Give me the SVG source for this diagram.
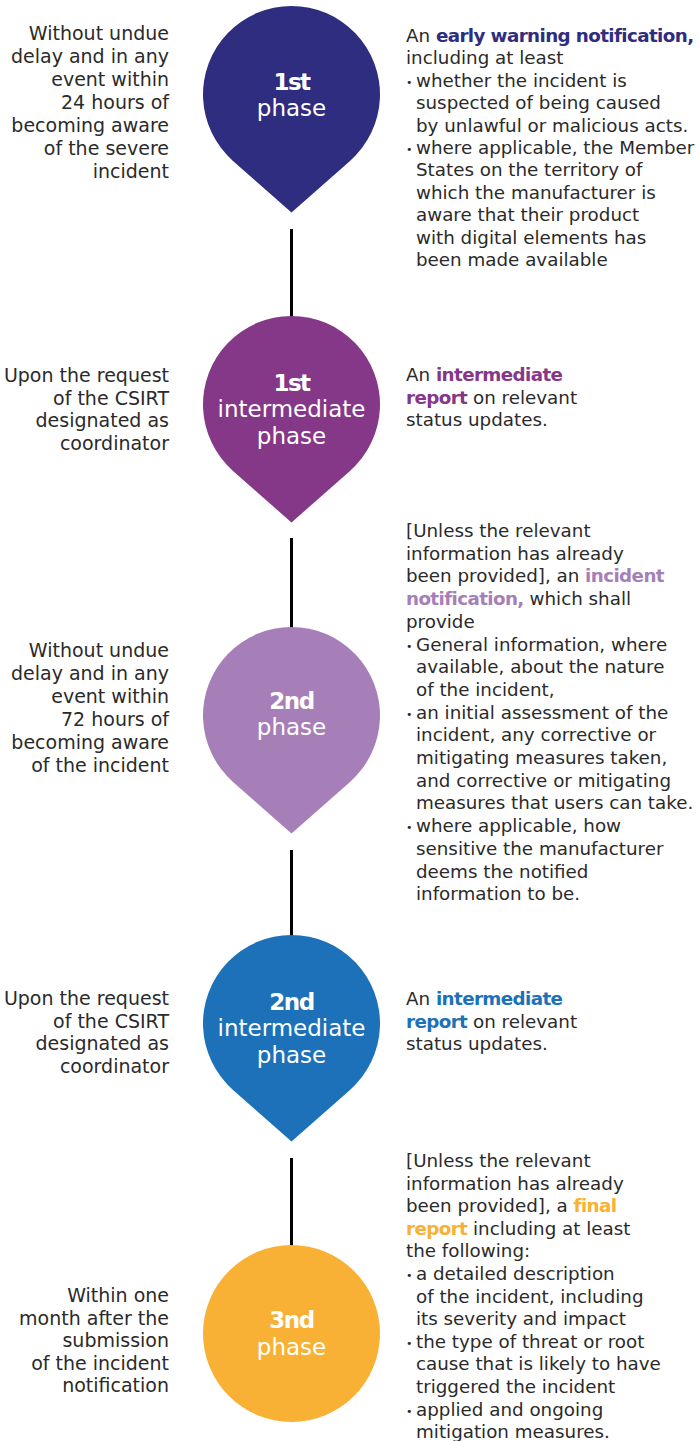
<svg xmlns="http://www.w3.org/2000/svg" width="699" height="1441" viewBox="0 0 699 1441">
<style>
.l{font-family:"DejaVu Sans",sans-serif;font-size:19px;fill:#2b2a2a;text-anchor:end}
.r{font-family:"DejaVu Sans",sans-serif;font-size:18.3px;fill:#2b2a2a}
.b{font-weight:bold;letter-spacing:-0.6px}
.bu{font-size:11px}
.c{font-family:"DejaVu Sans",sans-serif;font-size:23px;fill:#ffffff;text-anchor:middle}
.cb{font-weight:bold;letter-spacing:-1.5px}
.conn{stroke:#000;stroke-width:3;fill:none}
</style>
<defs>
<path id="pin" d="M0,118 L-58.5,66.4 A88.5,88.5 0 1 1 58.5,66.4 Z"/>
</defs>
<g id="connectors">
<line class="conn" x1="291.5" y1="229" x2="291.5" y2="320"/>
<line class="conn" x1="291.5" y1="538" x2="291.5" y2="630"/>
<line class="conn" x1="291.5" y1="850" x2="291.5" y2="940"/>
<line class="conn" x1="291.5" y1="1158" x2="291.5" y2="1250"/>
</g>
<g id="phase1">
<use href="#pin" x="291.5" y="94.5" fill="#2f2d80"/>
<text class="c" x="291.5" y="90"><tspan class="cb">1st</tspan></text>
<text class="c" x="291.5" y="116">phase</text>
</g>
<g id="phase1i">
<use href="#pin" x="291.5" y="404.5" fill="#853888"/>
<text class="c" x="291.5" y="391"><tspan class="cb">1st</tspan></text>
<text class="c" x="291.5" y="417">intermediate</text>
<text class="c" x="291.5" y="444">phase</text>
</g>
<g id="phase2">
<use href="#pin" x="291.5" y="715.5" fill="#a67fb9"/>
<text class="c" x="291.5" y="709"><tspan class="cb">2nd</tspan></text>
<text class="c" x="291.5" y="735">phase</text>
</g>
<g id="phase2i">
<use href="#pin" x="291.5" y="1023.5" fill="#1d71b8"/>
<text class="c" x="291.5" y="1010"><tspan class="cb">2nd</tspan></text>
<text class="c" x="291.5" y="1036">intermediate</text>
<text class="c" x="291.5" y="1063">phase</text>
</g>
<g id="phase3">
<circle cx="291.5" cy="1333.5" r="88.5" fill="#f8b134"/>
<text class="c" x="291.5" y="1328"><tspan class="cb">3nd</tspan></text>
<text class="c" x="291.5" y="1355">phase</text>
</g>
<g id="when1">
<text class="l" x="169" y="40">Without undue</text>
<text class="l" x="169" y="63">delay and in any</text>
<text class="l" x="169" y="86">event within</text>
<text class="l" x="169" y="109">24 hours of</text>
<text class="l" x="169" y="132">becoming aware</text>
<text class="l" x="169" y="155">of the severe</text>
<text class="l" x="169" y="178">incident</text>
</g>
<g id="when2">
<text class="l" x="169" y="382">Upon the request</text>
<text class="l" x="169" y="405">of the CSIRT</text>
<text class="l" x="169" y="427">designated as</text>
<text class="l" x="169" y="450">coordinator</text>
</g>
<g id="when3">
<text class="l" x="169" y="657">Without undue</text>
<text class="l" x="169" y="680">delay and in any</text>
<text class="l" x="169" y="703">event within</text>
<text class="l" x="169" y="726">72 hours of</text>
<text class="l" x="169" y="749">becoming aware</text>
<text class="l" x="169" y="772">of the incident</text>
</g>
<g id="when4">
<text class="l" x="169" y="1005">Upon the request</text>
<text class="l" x="169" y="1028">of the CSIRT</text>
<text class="l" x="169" y="1050">designated as</text>
<text class="l" x="169" y="1073">coordinator</text>
</g>
<g id="when5">
<text class="l" x="169" y="1302">Within one</text>
<text class="l" x="169" y="1324.5">month after the</text>
<text class="l" x="169" y="1347">submission</text>
<text class="l" x="169" y="1369.5">of the incident</text>
<text class="l" x="169" y="1392">notification</text>
</g>
<g id="what1">
<text class="r" x="406" y="42">An <tspan class="b" fill="#2f2d80">early warning notification,</tspan></text>
<text class="r" x="406" y="64.4">including at least</text>
<text class="r" y="86.8"><tspan class="bu" x="406" dy="-1">•</tspan><tspan x="416" dy="1">whether the incident is</tspan></text>
<text class="r" x="416" y="109.2">suspected of being caused</text>
<text class="r" x="416" y="131.6">by unlawful or malicious acts.</text>
<text class="r" y="154"><tspan class="bu" x="406" dy="-1">•</tspan><tspan x="416" dy="1">where applicable, the Member</tspan></text>
<text class="r" x="416" y="176.4">States on the territory of</text>
<text class="r" x="416" y="198.8">which the manufacturer is</text>
<text class="r" x="416" y="221.2">aware that their product</text>
<text class="r" x="416" y="243.6">with digital elements has</text>
<text class="r" x="416" y="266">been made available</text>
</g>
<g id="what2">
<text class="r" x="406" y="381">An <tspan class="b" fill="#853888">intermediate</tspan></text>
<text class="r" x="406" y="403.5"><tspan class="b" fill="#853888">report</tspan> on relevant</text>
<text class="r" x="406" y="426">status updates.</text>
</g>
<g id="what3">
<text class="r" x="406" y="537">[Unless the relevant</text>
<text class="r" x="406" y="559.7">information has already</text>
<text class="r" x="406" y="582.4">been provided], an <tspan class="b" fill="#a67fb9">incident</tspan></text>
<text class="r" x="406" y="605.1"><tspan class="b" fill="#a67fb9">notification,</tspan> which shall</text>
<text class="r" x="406" y="627.8">provide</text>
<text class="r" y="650.5"><tspan class="bu" x="406" dy="-1">•</tspan><tspan x="416" dy="1">General information, where</tspan></text>
<text class="r" x="416" y="673.2">available, about the nature</text>
<text class="r" x="416" y="695.9">of the incident,</text>
<text class="r" y="718.6"><tspan class="bu" x="406" dy="-1">•</tspan><tspan x="416" dy="1">an initial assessment of the</tspan></text>
<text class="r" x="416" y="741.3">incident, any corrective or</text>
<text class="r" x="416" y="764">mitigating measures taken,</text>
<text class="r" x="416" y="786.7">and corrective or mitigating</text>
<text class="r" x="416" y="809.4">measures that users can take.</text>
<text class="r" y="832.1"><tspan class="bu" x="406" dy="-1">•</tspan><tspan x="416" dy="1">where applicable, how</tspan></text>
<text class="r" x="416" y="854.8">sensitive the manufacturer</text>
<text class="r" x="416" y="877.5">deems the notified</text>
<text class="r" x="416" y="900.2">information to be.</text>
</g>
<g id="what4">
<text class="r" x="406" y="1005">An <tspan class="b" fill="#1d71b8">intermediate</tspan></text>
<text class="r" x="406" y="1027.5"><tspan class="b" fill="#1d71b8">report</tspan> on relevant</text>
<text class="r" x="406" y="1050">status updates.</text>
</g>
<g id="what5">
<text class="r" x="406" y="1167">[Unless the relevant</text>
<text class="r" x="406" y="1189.6">information has already</text>
<text class="r" x="406" y="1212.2">been provided], a <tspan class="b" fill="#f8b134">final</tspan></text>
<text class="r" x="406" y="1234.8"><tspan class="b" fill="#f8b134">report</tspan> including at least</text>
<text class="r" x="406" y="1257.4">the following:</text>
<text class="r" y="1280"><tspan class="bu" x="406" dy="-1">•</tspan><tspan x="416" dy="1">a detailed description</tspan></text>
<text class="r" x="416" y="1302.6">of the incident, including</text>
<text class="r" x="416" y="1325.2">its severity and impact</text>
<text class="r" y="1347.8"><tspan class="bu" x="406" dy="-1">•</tspan><tspan x="416" dy="1">the type of threat or root</tspan></text>
<text class="r" x="416" y="1370.4">cause that is likely to have</text>
<text class="r" x="416" y="1393">triggered the incident</text>
<text class="r" y="1415.6"><tspan class="bu" x="406" dy="-1">•</tspan><tspan x="416" dy="1">applied and ongoing</tspan></text>
<text class="r" x="416" y="1438.2">mitigation measures.</text>
</g>
</svg>
